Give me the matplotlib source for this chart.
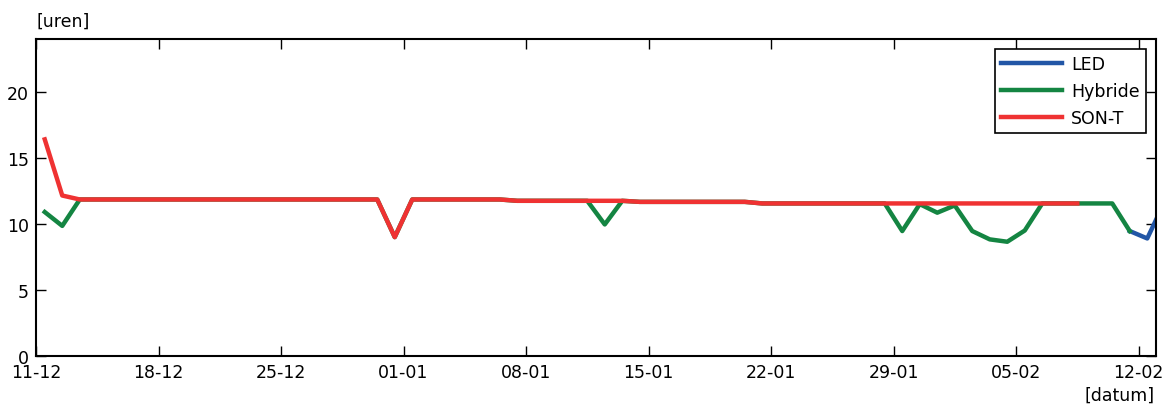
import matplotlib
matplotlib.use('Agg')
import matplotlib.pyplot as plt
import matplotlib.dates as mdates
import pandas as pd

plt.rcParams['font.family'] = ['DejaVu Sans']
plt.rcParams['font.size'] = 12.5

start = pd.Timestamp('2017-12-11 12:00')

# SON-T: days 0..59
son_t = ([16.4, 12.15] + [11.85] * 18 + [9.0] + [11.85] * 6 + [11.75] * 7
         + [11.67] * 7 + [11.55] * 19)
# Hybride: days 0..62
hybride = ([10.9, 9.85] + [11.85] * 18 + [9.0] + [11.85] * 6 + [11.75] * 5
           + [9.96, 11.75] + [11.67] * 7 + [11.55] * 8
           + [9.46, 11.5, 10.85, 11.4, 9.46, 8.83, 8.65, 9.5]
           + [11.55] * 5 + [9.46])
# LED: days 62..64
led = [9.46, 8.9, 11.7]

d_son = pd.date_range(start, periods=len(son_t), freq='D')
d_hyb = pd.date_range(start, periods=len(hybride), freq='D')
d_led = pd.date_range(start + pd.Timedelta(days=62), periods=len(led), freq='D')
ticks = pd.date_range('2017-12-11', '2018-02-12', freq='7D')

fig = plt.figure(figsize=(11.68, 4.06), dpi=100)
ax = fig.add_axes([36 / 1168, 49 / 406, 1120 / 1168, 317 / 406])

ax.plot(d_led, led, color='#2256a6', lw=3.2, label='LED')
ax.plot(d_hyb, hybride, color='#148542', lw=3.2, label='Hybride')
ax.plot(d_son, son_t, color='#ef3232', lw=3.2, label='SON-T')

ax.set_xlim(pd.Timestamp('2017-12-11'), pd.Timestamp('2018-02-13'))
ax.set_ylim(0, 24)
ax.set_yticks([0, 5, 10, 15, 20])
ax.set_xticks(ticks)
ax.xaxis.set_major_formatter(mdates.DateFormatter('%d-%m'))

ax.tick_params(direction='in', length=7, width=1, top=True, right=True,
               labelsize=12.5)
ax.tick_params(axis='x', pad=5)
ax.tick_params(axis='y', pad=5)
for s in ax.spines.values():
    s.set_linewidth(1.5)

fig.text(36 / 1168, 1 - 22 / 406, '[uren]', ha='left', va='center', fontsize=12.5)
fig.text(1155 / 1168, 1 - 396 / 406, '[datum]', ha='right', va='center', fontsize=12.5)

leg = ax.legend(loc='upper right', fancybox=False, framealpha=1, edgecolor='black',
                handlelength=3.5, borderaxespad=0.6, fontsize=12.5,
                labelspacing=0.5, handletextpad=0.5, borderpad=0.35)
leg.get_frame().set_linewidth(1.2)

fig.savefig('out.png', dpi=100)
